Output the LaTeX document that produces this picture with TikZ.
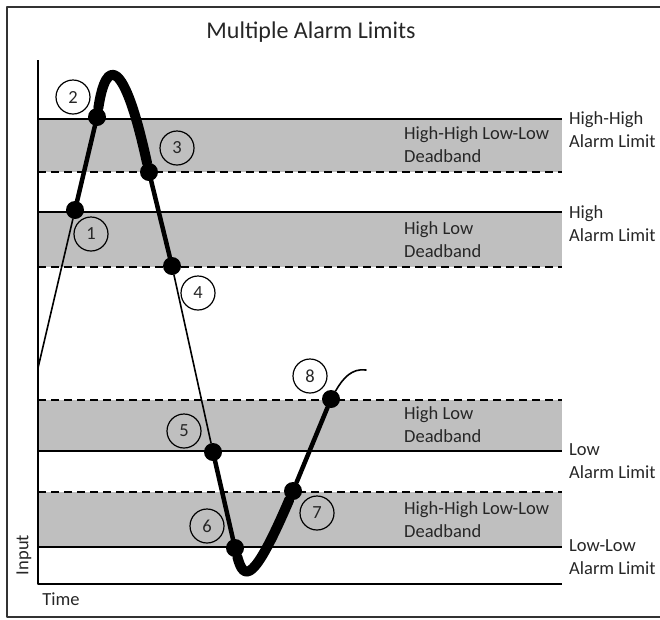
\documentclass[tikz,border=0pt]{standalone}
\usepackage{fontspec}
\setmainfont{Carlito}
\begin{document}
\begin{tikzpicture}[x=1pt,y=-1pt,line join=round,line cap=round,
	font=\fontsize{18.5}{23}\selectfont,
	limit/.style={line width=2pt,line cap=butt},
	dband/.style={line width=2pt,line cap=butt,dash pattern=on 8pt off 5pt},
	sig/.style={line width=1.6pt},
	sigmed/.style={line width=4.5pt},
	sigbold/.style={line width=10pt},
	dot/.style={circle,fill,inner sep=0pt,minimum size=18pt},
	tag/.style={circle,draw,line width=1.2pt,minimum size=34pt,inner sep=0pt,text=black!85},
	txt/.style={align=left,anchor=west,inner sep=3pt,text=black!85}]
	\useasboundingbox (0,0) rectangle (660,619);
	\draw[line width=1.5pt,black!80] (670,7)--(7,7)--(7,617)--(670,617);
	\node[text=black!85] (title) at (311,32) {\fontsize{24}{28}\selectfont Multiple Alarm Limits};
	
	% deadbands and limits
	\foreach \a/\b in {119/172,212/267,400/451,492/547}
	\fill[gray!50] (38,\a) rectangle (562,\b);
	\foreach \y in {119,212,451,547}
	\draw[limit] (38,\y)--(562,\y);
	\foreach \y in {172,267,400,492}
	\draw[dband] (38,\y)--(562,\y);
	\draw[line width=1.5pt,line cap=butt] (38,60)--(38,584)--(562,584);
	
	% input signal
	\coordinate (s0) at (38,368);
	\node[dot] (p1) at (75,210) {};
	\node[dot] (p2) at (97,117) {};
	\node[dot] (p3) at (149,172) {};
	\node[dot] (p4) at (172,266) {};
	\node[dot] (p5) at (213,452) {};
	\node[dot] (p6) at (235,548) {};
	\node[dot] (p7) at (293,491) {};
	\node[dot] (p8) at (331,399) {};
	\coordinate (s9) at (366,370);
	\draw[sig] (s0)--(p1);
	\draw[sigmed] (p1)--(p2);
	\draw[sigbold] (p2) .. controls (106,57) and (124,57) .. (p3);
	\draw[sigmed] (p3)--(p4);
	\draw[sig] (p4)--(p5);
	\draw[sigmed] (p5)--(p6);
	\draw[sigbold] (p6) .. controls (244,582) and (254,582) .. (p7);
	\draw[sigmed] (p7)--(p8);
	\draw[sig] (p8) .. controls (343,378) and (352,368) .. (s9);
	
	\node[tag] (n1) at (91,234) {1};
	\node[tag] (n2) at (73,97) {2};
	\node[tag] (n3) at (177,148) {3};
	\node[tag] (n4) at (198,293) {4};
	\node[tag] (n5) at (184,431) {5};
	\node[tag] (n6) at (207,526) {6};
	\node[tag] (n7) at (317,513) {7};
	\node[tag] (n8) at (310,376) {8};
	
	\node[txt] (db1) at (401,145) {High-High Low-Low\\Deadband};
	\node[txt] (db2) at (401,240) {High Low\\Deadband};
	\node[txt] (db3) at (401,425) {High Low\\Deadband};
	\node[txt] (db4) at (401,520) {High-High Low-Low\\Deadband};
	\node[txt] (hh) at (566,130) {High-High\\Alarm Limit};
	\node[txt] (h) at (566,224) {High\\Alarm Limit};
	\node[txt] (l) at (566,461) {Low\\Alarm Limit};
	\node[txt] (ll) at (566,557) {Low-Low\\Alarm Limit};
	\node[rotate=90,text=black!85] (input) at (24,555) {Input};
	\node[text=black!85] (time) at (61,599) {Time};
\end{tikzpicture}
\end{document}
